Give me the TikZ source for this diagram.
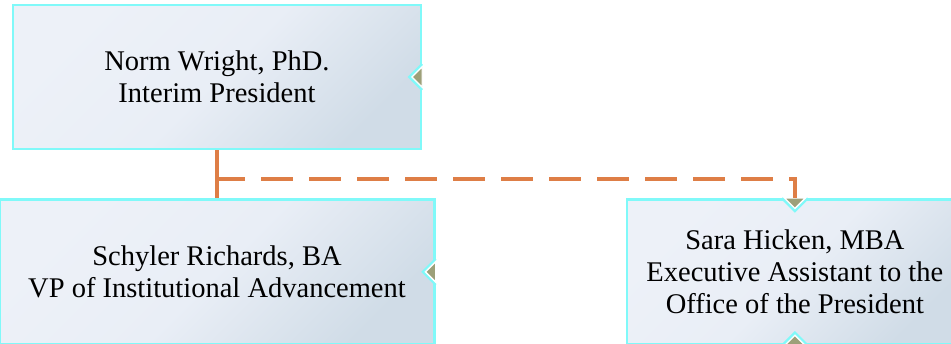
\documentclass[tikz,border=0pt]{standalone}
\usepackage{fontspec}
\setmainfont{Liberation Serif}
\usetikzlibrary{positioning,calc}
\definecolor{boxlight}{RGB}{237,241,248}
\definecolor{boxmid}{RGB}{233,238,246}
\definecolor{boxdark}{RGB}{208,220,231}
\definecolor{edgecyan}{RGB}{128,249,249}
\definecolor{tabolive}{RGB}{157,160,121}
\definecolor{linkorange}{RGB}{222,126,70}
\tikzset{
 notch/.pic={
  \fill[white] (0.3pt,13pt) -- (-13pt,0pt) -- (0.3pt,-13pt) -- (3pt,-13pt) -- (3pt,13pt) -- cycle;
  \draw[edgecyan,line width=2.2pt] (0pt,13pt) -- (-13pt,0pt) -- (0pt,-13pt);
  \filldraw[fill=tabolive,draw=white,line width=1pt] (0pt,10pt) -- (-10pt,0pt) -- (0pt,-10pt) -- cycle;
 }
}
\begin{document}
\begin{tikzpicture}[
 post/.style={draw=edgecyan, line width=2.4pt, left color=boxlight, right color=boxdark, middle color=boxmid, shading angle=45, inner sep=0pt, minimum height=145pt, align=center, font=\fontsize{28.5}{32}\selectfont},
 link/.style={draw=linkorange, line width=3.5pt}]
 \useasboundingbox (0,0) rectangle (951pt,344pt);
 \node [post, minimum width=408pt, minimum height=144pt] (wright) at (217pt,267pt) {Norm Wright, PhD.\\Interim President};
 \node [post, minimum width=435pt, below=48pt of wright] (schyler) {Schyler Richards, BA\\VP of Institutional Advancement};
 \node [post, minimum width=336pt, right=190pt of schyler] (sara) {Sara Hicken, MBA\\Executive Assistant to the\\Office of the President};
 \pic at (wright.east) {notch};
 \pic at (schyler.east) {notch};
 \pic [rotate=90] at (sara.north) {notch};
 \pic [rotate=-90] at (sara.south) {notch};
 \coordinate (branch) at ($(wright.south)!0.6!(wright.south |- schyler.north)$);
 \draw [link] (wright.south) -- (wright.south |- schyler.north);
 \draw [link, dash pattern=on 32pt off 16pt, dash phase=4pt] (branch) -| (sara.north);
\end{tikzpicture}
\end{document}
